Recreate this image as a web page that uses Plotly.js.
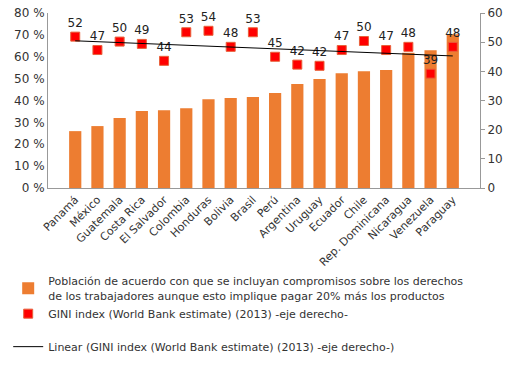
<!DOCTYPE html>
<html><head><meta charset="utf-8">
<script src="https://cdn.plot.ly/plotly-3.0.1.min.js"></script>
<style>html,body{margin:0;padding:0;background:#fff}#c{width:512px;height:366px}</style>
</head><body><div id="c"></div>
<script>
const countries = ["Panamá","México","Guatemala","Costa Rica","El Salvador","Colombia","Honduras","Bolivia","Brasil","Perú","Argentina","Uruguay","Ecuador","Chile","Rep. Dominicana","Nicaragua","Venezuela","Paraguay"];
const acuerdo = [26.0,28.3,32.0,35.2,35.6,36.5,40.6,41.1,41.6,43.4,47.5,49.8,52.5,53.4,53.9,61.8,63.0,70.3];
const gini = [51.9,47.3,50.2,49.4,43.6,53.4,53.9,48.4,53.4,45.0,42.3,41.9,47.3,50.4,47.3,48.4,39.2,48.4];
const leftTicks = [0,10,20,30,40,50,60,70,80];
const leftTickText = ["0 %","10 %","20 %","30 %","40 %","50 %","60 %","70 %","80 %"];
const rightTicks = [0,10,20,30,40,50,60];

// linear trend of the GINI series
const n = gini.length;
const xs = gini.map((_, i) => i);
const mx = xs.reduce((a,b)=>a+b,0)/n, my = gini.reduce((a,b)=>a+b,0)/n;
let sxy=0, sxx=0;
for (let i=0;i<n;i++){ sxy += (xs[i]-mx)*(gini[i]-my); sxx += (xs[i]-mx)**2; }
const slope = sxy/sxx, icpt = my - slope*mx;
const trend = xs.map(x => icpt + slope*x);

const fam = "DejaVu Sans, sans-serif";

const data = [
  {type:"bar", x: countries, y: acuerdo, legendgroup:"a",
   name: "Población de acuerdo con que se incluyan compromisos sobre los derechos<br>de los trabajadores aunque esto implique pagar 20% más los productos",
   marker:{color:"#ED7D31"}, yaxis:"y"},
  {type:"scatter", mode:"markers+text", x: countries, y: gini, yaxis:"y2", legendgroup:"a", cliponaxis:false,
   name: "GINI index (World Bank estimate) (2013) -eje derecho-",
   marker:{symbol:"square", color:"#FF0000", size:9, line:{color:"#E8603A", width:1}},
   texttemplate:"%{y:.0f}", textposition:"top center", textfont:{family: fam, size:12, color:"#222"}},
  {type:"scatter", mode:"lines", x: countries, y: trend, yaxis:"y2", legendgroup:"b",
   name: "Linear (GINI index (World Bank estimate) (2013) -eje derecho-)",
   line:{color:"#000", width:1}}
];

const layout = {
  width:512, height:366,
  margin:{l:48, r:32, t:13, b:178, autoexpand:false},
  paper_bgcolor:"#fff", plot_bgcolor:"#fff",
  font: {family: fam, size: 11, color: "#333"},
  bargap: 0.45,
  showlegend: true,
  xaxis:{type:"category", automargin:false, tickangle:-45, showline:true, linecolor:"#999", linewidth:1, ticks:"", tickfont:{size:11}, showgrid:false},
  yaxis:{automargin:false, range:[0,80], tickmode:"array", tickvals:leftTicks, ticktext:leftTickText, showline:true, linecolor:"#999", linewidth:1, showgrid:false, zeroline:false, ticks:"", tickfont:{size:12}},
  yaxis2:{automargin:false, range:[0,60], tickmode:"array", tickvals:rightTicks, overlaying:"y", side:"right", showline:true, linecolor:"#999", linewidth:1, showgrid:false, zeroline:false, ticks:"outside", ticklen:4, tickcolor:"#999", tickfont:{size:12}},
  legend:{xref:"container", yref:"container", x:0.016, xanchor:"left", y:0.269, yanchor:"top", font:{size:11, color:"#333"}, tracegroupgap:14, bgcolor:"rgba(0,0,0,0)"}
};

Plotly.newPlot("c", data, layout, {displayModeBar:false, staticPlot:true});
</script>
</body></html>
